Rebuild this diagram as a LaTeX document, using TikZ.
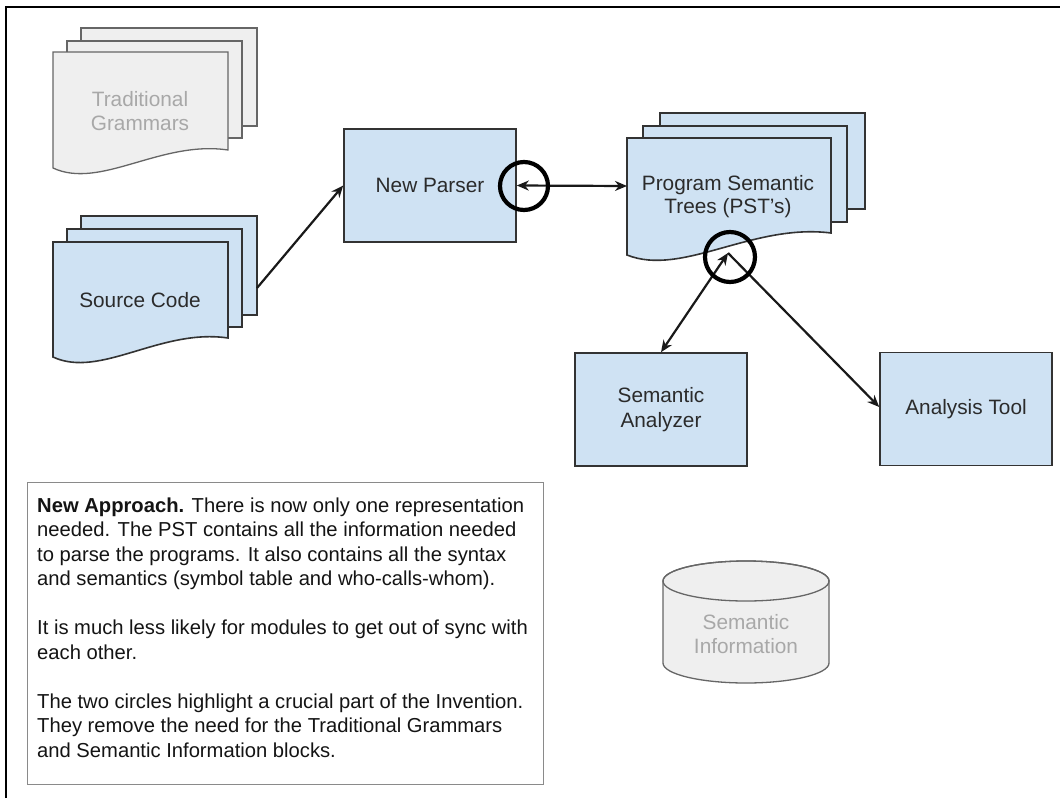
\documentclass[tikz,border=0pt]{standalone}
\usepackage{fontspec}
\setmainfont{Liberation Sans}
\usetikzlibrary{arrows.meta}
\definecolor{boxblue}{HTML}{CFE2F3}
\definecolor{boxline}{HTML}{333333}
\definecolor{grayfill}{HTML}{EFEFEF}
\definecolor{grayline}{HTML}{666666}
\definecolor{graytext}{HTML}{A8A8A8}
\definecolor{txt}{HTML}{2B2B2B}
\definecolor{noteline}{HTML}{8A8A8A}

% document page with wavy bottom: style, x1, y1, x2, y bottom-left, y bottom-right
\newcommand\docpage[6]{%
  \path[#1] (#2,#3) -- (#4,#3) -- (#4,#6)
    .. controls ({#2+0.615*(#4-#2)},{#6-10}) and ({#2+0.27*(#4-#2)},{#5+22}) .. (#2,#5) -- cycle;}
\newcommand\backpage[5]{\path[#1] (#2,#3) rectangle (#4,#5);}

\tikzset{
  blueshape/.style={fill=boxblue, draw=boxline, line width=1.6pt},
  grayshape/.style={fill=grayfill, draw=grayline, line width=1.3pt},
  lbl/.style={text=txt, font=\fontsize{20.8}{23.5}\selectfont, align=center, inner sep=0pt},
  graylbl/.style={text=graytext, font=\fontsize{20.8}{24.5}\selectfont, align=center, inner sep=0pt},
  procbox/.style={blueshape, minimum width=172pt, minimum height=113pt, inner sep=0pt,
    text=txt, font=\fontsize{20.8}{25}\selectfont, align=center},
  arr/.style={line width=2.2pt, draw=black!90, -{Stealth[length=12pt,width=10pt]}},
  biarr/.style={line width=2.2pt, draw=black!90, {Stealth[length=12pt,width=10pt]}-{Stealth[length=12pt,width=10pt]}},
  ring/.style={circle, draw=black, line width=4.2pt, inner sep=0pt},
}

\begin{document}
\begin{tikzpicture}[x=1pt, y=-1pt]
\useasboundingbox (0,0) rectangle (1060,798);
\fill[white] (0,0) rectangle (1060,798);
% outer frame (cropped on right and bottom)
\draw[line width=1.8pt] (6,798) -- (6,7) -- (1060,7);

% Traditional Grammars (gray document stack)
\backpage{grayshape}{81}{28}{257}{126}
\backpage{grayshape}{67}{41}{242}{138}
\docpage{grayshape}{53}{52}{228}{168}{150}
\node[graylbl] (tg) at (140,111) {Traditional\\Grammars};

% Source Code (blue document stack)
\backpage{blueshape}{81}{216}{257}{315}
\backpage{blueshape}{67}{229}{242}{327}
\docpage{blueshape}{53}{242}{228}{357}{338}
\node[lbl] (src) at (140,300) {Source Code};
\coordinate (srcout) at (257,288);

% New Parser
\node[procbox] (np) at (430,185.5) {New Parser};

% Program Semantic Trees
\backpage{blueshape}{660}{113}{865}{209}
\backpage{blueshape}{643}{126}{847}{222}
\docpage{blueshape}{627}{138}{831}{255}{233}
\node[lbl] (pst) at (728,196.5) {Program Semantic\\Trees (PST's)};
\coordinate (pstin) at (627,186);
\coordinate (psthub) at (728,253);

% Semantic Analyzer and Analysis Tool
\node[procbox] (sa) at (661,409.5) {Semantic\\Analyzer};
\node[procbox] (at) at (966,409) {Analysis Tool};

% Semantic Information (gray cylinder)
\path[grayshape] (663,581) -- (663,663) arc[start angle=180, end angle=0, x radius=83, y radius=20]
  -- (829,581) arc[start angle=0, end angle=-180, x radius=83, y radius=20] -- cycle;
\draw[grayline, line width=1.3pt] (746,581) ellipse[x radius=83, y radius=20];
\node[graylbl] (si) at (746,634) {Semantic\\Information};

% connectors
\draw[arr] (srcout) -- (np.west);
\draw[biarr] (np.east) -- (pstin);
\draw[biarr] (psthub) -- (sa.north);
\draw[arr] (psthub) -- ([yshift=2pt]at.west);

% highlight circles
\node[ring, minimum size=48pt] (c1) at (524,186) {};
\node[ring, minimum size=50pt] (c2) at (730,257) {};

% note box
\node[draw=noteline, line width=1.2pt, minimum width=516pt, minimum height=302pt, anchor=north west, inner sep=0pt] (note) at (27,482) {};
\node[anchor=north west, inner sep=0pt, align=left, text=black!92, font=\fontsize{20.2}{24.5}\selectfont] (notetext) at (37,497.5)
{\textbf{New Approach.} There is now only one representation\\
needed. The PST contains all the information needed\\
to parse the programs. It also contains all the syntax\\
and semantics (symbol table and who-calls-whom).\\[24.5pt]
It is much less likely for modules to get out of sync with\\
each other.\\[24.5pt]
The two circles highlight a crucial part of the Invention.\\
They remove the need for the Traditional Grammars\\
and Semantic Information blocks.};
\end{tikzpicture}
\end{document}
